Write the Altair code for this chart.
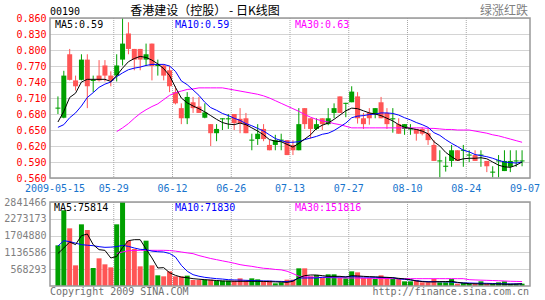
import altair as alt
import pandas as pd

# ---------------- data ----------------
date_labels = ["2009-05-15", "05-29", "06-12", "06-26", "07-13", "07-27", "08-10", "08-24", "09-07"]
date_index = [0, 10, 20, 30, 40, 50, 60, 70, 80]
grid_index = [10, 20, 30, 40, 50, 60, 70]
price_ticks = [0.56, 0.59, 0.62, 0.65, 0.68, 0.71, 0.74, 0.77, 0.80, 0.83, 0.86]
vol_ticks = [568293, 1136586, 1704880, 2273173, 2841466]

opens = [0.690, 0.673, 0.792, 0.743, 0.744, 0.782, 0.742, 0.752, 0.771, 0.752,
         0.752, 0.782, 0.831, 0.802, 0.802, 0.782, 0.812, 0.770, 0.771, 0.762,
         0.721, 0.691, 0.672, 0.702, 0.694, 0.673, 0.661, 0.644, 0.670, 0.670,
         0.680, 0.671, 0.672, 0.630, 0.633, 0.652, 0.622, 0.622, 0.630, 0.631,
         0.622, 0.612, 0.691, 0.672, 0.652, 0.672, 0.661, 0.682, 0.713, 0.699,
         0.702, 0.713, 0.672, 0.682, 0.680, 0.702, 0.682, 0.670, 0.661, 0.652,
         0.651, 0.652, 0.652, 0.644, 0.622, 0.591, 0.581, 0.592, 0.612, 0.611,
         0.602, 0.603, 0.602, 0.592, 0.570, 0.591, 0.573, 0.581, 0.591, 0.591]
highs = [0.713, 0.761, 0.802, 0.752, 0.792, 0.792, 0.752, 0.781, 0.781, 0.760,
         0.792, 0.860, 0.852, 0.802, 0.802, 0.812, 0.812, 0.782, 0.773, 0.770,
         0.732, 0.700, 0.721, 0.712, 0.712, 0.700, 0.661, 0.661, 0.672, 0.680,
         0.680, 0.691, 0.682, 0.643, 0.661, 0.661, 0.631, 0.641, 0.643, 0.631,
         0.631, 0.691, 0.691, 0.672, 0.672, 0.672, 0.691, 0.700, 0.713, 0.701,
         0.732, 0.721, 0.682, 0.691, 0.691, 0.712, 0.691, 0.691, 0.672, 0.661,
         0.661, 0.652, 0.655, 0.652, 0.631, 0.612, 0.600, 0.622, 0.612, 0.622,
         0.612, 0.612, 0.612, 0.592, 0.582, 0.603, 0.612, 0.612, 0.612, 0.612]
lows = [0.680, 0.672, 0.743, 0.724, 0.743, 0.691, 0.721, 0.741, 0.741, 0.732,
        0.741, 0.771, 0.792, 0.762, 0.762, 0.770, 0.743, 0.752, 0.743, 0.721,
        0.698, 0.661, 0.661, 0.682, 0.682, 0.672, 0.620, 0.629, 0.650, 0.652,
        0.650, 0.644, 0.644, 0.612, 0.622, 0.629, 0.612, 0.612, 0.612, 0.603,
        0.603, 0.612, 0.652, 0.634, 0.650, 0.650, 0.659, 0.672, 0.682, 0.674,
        0.702, 0.662, 0.652, 0.660, 0.672, 0.672, 0.652, 0.645, 0.643, 0.641,
        0.641, 0.630, 0.640, 0.622, 0.592, 0.561, 0.572, 0.581, 0.592, 0.581,
        0.590, 0.592, 0.581, 0.571, 0.561, 0.561, 0.573, 0.571, 0.581, 0.582]
closes = [0.692, 0.752, 0.744, 0.732, 0.782, 0.732, 0.744, 0.743, 0.752, 0.743,
          0.771, 0.812, 0.802, 0.782, 0.782, 0.792, 0.770, 0.773, 0.752, 0.732,
          0.700, 0.672, 0.712, 0.691, 0.682, 0.683, 0.644, 0.652, 0.672, 0.672,
          0.663, 0.663, 0.644, 0.632, 0.643, 0.633, 0.612, 0.631, 0.632, 0.603,
          0.612, 0.661, 0.661, 0.652, 0.661, 0.661, 0.672, 0.691, 0.682, 0.701,
          0.722, 0.672, 0.661, 0.672, 0.691, 0.672, 0.661, 0.672, 0.643, 0.661,
          0.653, 0.643, 0.643, 0.631, 0.592, 0.593, 0.583, 0.612, 0.592, 0.613,
          0.604, 0.592, 0.604, 0.582, 0.572, 0.593, 0.592, 0.592, 0.593, 0.593]
volumes = [1376000, 2560000, 1951000, 699000, 2086000, 1894000, 609000, 936000, 733000, 631000,
           2086000, 3050000, 1533000, 1252000, 665000, 1533000, 699000, 361000, 327000, 496000,
           327000, 327000, 350000, 203000, 203000, 214000, 214000, 180000, 180000, 180000,
           180000, 259000, 180000, 259000, 225000, 169000, 180000, 90000, 124000, 214000,
           214000, 598000, 598000, 327000, 372000, 271000, 395000, 395000, 271000, 259000,
           496000, 462000, 271000, 271000, 237000, 361000, 271000, 237000, 237000, 158000,
           158000, 203000, 124000, 124000, 237000, 124000, 124000, 237000, 79000, 101000,
           79000, 79000, 158000, 79000, 79000, 124000, 158000, 79000, 79000, 79000]

ma5 = [0.665, 0.685, 0.711, 0.719, 0.740, 0.745, 0.745, 0.745, 0.745, 0.741,
       0.752, 0.766, 0.778, 0.784, 0.788, 0.786, 0.781, 0.774, 0.765, 0.752,
       0.730, 0.710, 0.701, 0.695, 0.690, 0.684, 0.677, 0.670, 0.664, 0.661,
       0.660, 0.663, 0.660, 0.654, 0.648, 0.641, 0.632, 0.629, 0.628, 0.623,
       0.618, 0.625, 0.633, 0.641, 0.653, 0.659, 0.663, 0.670, 0.678, 0.686,
       0.691, 0.690, 0.686, 0.682, 0.680, 0.677, 0.672, 0.667, 0.660, 0.655,
       0.653, 0.651, 0.648, 0.643, 0.628, 0.620, 0.608, 0.600, 0.593, 0.596,
       0.597, 0.597, 0.598, 0.596, 0.590, 0.584, 0.581, 0.580, 0.584, 0.590]
ma10 = [0.655, 0.660, 0.673, 0.682, 0.695, 0.711, 0.720, 0.730, 0.736, 0.740,
        0.750, 0.757, 0.763, 0.766, 0.768, 0.771, 0.773, 0.773, 0.773, 0.770,
        0.760, 0.742, 0.735, 0.725, 0.715, 0.702, 0.692, 0.687, 0.681, 0.677,
        0.672, 0.668, 0.662, 0.658, 0.653, 0.648, 0.641, 0.634, 0.630, 0.627,
        0.627, 0.628, 0.632, 0.635, 0.638, 0.642, 0.644, 0.649, 0.656, 0.663,
        0.673, 0.676, 0.677, 0.679, 0.680, 0.682, 0.682, 0.681, 0.678, 0.673,
        0.669, 0.664, 0.660, 0.655, 0.645, 0.640, 0.632, 0.625, 0.619, 0.612,
        0.609, 0.604, 0.602, 0.600, 0.597, 0.593, 0.590, 0.589, 0.588, 0.590]
ma30 = [None] * 10 + [
        0.647, 0.654, 0.662, 0.672, 0.681, 0.688, 0.694, 0.699, 0.707, 0.715,
        0.720, 0.723, 0.726, 0.727, 0.729, 0.729, 0.729, 0.729, 0.729, 0.727,
        0.725, 0.723, 0.721, 0.719, 0.717, 0.714, 0.710, 0.705, 0.700, 0.695,
        0.690, 0.685, 0.679, 0.674, 0.670, 0.667, 0.665, 0.662, 0.660, 0.657,
        0.654, 0.654, 0.654, 0.654, 0.654, 0.654, 0.654, 0.654, 0.654, 0.654,
        0.654, 0.654, 0.654, 0.653, 0.653, 0.652, 0.651, 0.651, 0.650, 0.650,
        0.650, 0.648, 0.646, 0.644, 0.641, 0.639, 0.636, 0.633, 0.630, 0.627]

vma5 = [1100000, 1285000, 1488000, 1400000, 1700000, 1759000, 1400000, 1229000, 1206000, 947000,
        1000000, 1300000, 1533000, 1567000, 1567000, 1250000, 950000, 609000, 620000, 450000,
        360000, 300000, 280000, 248000, 230000, 214000, 200000, 185000, 170000, 165000,
        160000, 158000, 158000, 158000, 158000, 155000, 147000, 140000, 135000, 124000,
        160000, 280000, 350000, 372000, 372000, 350000, 327000, 327000, 327000, 304000,
        350000, 340000, 327000, 316000, 310000, 300000, 293000, 280000, 259000, 240000,
        214000, 170000, 150000, 135000, 140000, 147000, 150000, 158000, 124000, 100000,
        79000, 75000, 68000, 68000, 68000, 68000, 60000, 56000, 65000, 76000]
vma10 = [1350000, 1533000, 1500000, 1450000, 1398000, 1380000, 1364000, 1330000, 1308000, 1315000,
         1330000, 1376000, 1340000, 1285000, 1240000, 1229000, 1180000, 1160000, 1150000, 1100000,
         980000, 700000, 500000, 383000, 330000, 293000, 270000, 248000, 235000, 214000,
         205000, 200000, 192000, 185000, 178000, 172000, 169000, 160000, 155000, 147000,
         180000, 271000, 271000, 271000, 271000, 295000, 304000, 304000, 304000, 310000,
         316000, 310000, 304000, 300000, 293000, 290000, 285000, 282000, 240000, 225000,
         203000, 180000, 158000, 150000, 147000, 145000, 140000, 135000, 113000, 105000,
         101000, 95000, 92000, 90000, 85000, 80000, 72000, 68000, 70000, 72000]
vma30 = [None] * 10 + [
         1100000, 1150000, 1195000, 1200000, 1207000, 1207000, 1207000, 1207000, 1207000, 1200000,
         1180000, 1150000, 1120000, 1094000, 1030000, 980000, 930000, 891000, 850000, 812000,
         770000, 722000, 690000, 665000, 630000, 600000, 586000, 560000, 545000, 500000,
         420000, 330000, 310000, 300000, 293000, 290000, 285000, 280000, 275000, 272000,
         271000, 268000, 265000, 262000, 258000, 255000, 252000, 250000, 248000, 248000,
         248000, 248000, 248000, 248000, 248000, 248000, 248000, 248000, 248000, 248000,
         214000, 205000, 198000, 192000, 185000, 178000, 170000, 160000, 155000, 150000]

# ---------------- styling ----------------
GREEN = "#00A000"
RED = "#FF5555"
GRID = "#A8A8A8"
FRAME = "#999999"
MONO = "DejaVu Sans Mono"
CJK = "Noto Sans CJK SC"
W, H = 480, 268
P_TOP, P_BOT = 0, 160
V_TOP, V_BOT = 184, 268

df = pd.DataFrame({
    "i": list(range(len(opens))),
    "open": opens, "high": highs, "low": lows, "close": closes,
    "vol": volumes, "ma5": ma5, "ma10": ma10, "ma30": ma30,
    "vma5": vma5, "vma10": vma10, "vma30": vma30,
})

base = alt.Chart(df).transform_calculate(
    x="datum.i + 0.5",
    dir="datum.close >= datum.open ? 'up' : 'down'",
)

xs = alt.Scale(domain=[0, 80], nice=False, zero=False)
X = alt.X("x:Q", scale=xs, axis=None)
py = alt.Scale(domain=[0.56, 0.86], range=[P_BOT, P_TOP], nice=False, zero=False)
vy = alt.Scale(domain=[0, 2841466], range=[V_BOT, V_TOP], nice=False, clamp=True)
col = alt.Color("dir:N", scale=alt.Scale(domain=["up", "down"], range=[GREEN, RED]), legend=None)

PAXIS = alt.Axis(values=price_ticks, format=".3f", orient="left", title=None,
                 labelColor="#FF0000", labelFont=MONO, labelFontSize=10, labelPadding=4,
                 ticks=False, domain=False, grid=True, gridColor=GRID, gridDash=[1, 1],
                 labelOverlap=False)
VAXIS = alt.Axis(values=vol_ticks, format="d", orient="left", title=None,
                 labelColor="#808080", labelFont=MONO, labelFontSize=10, labelPadding=4,
                 ticks=False, domain=False, grid=True, gridColor=GRID, gridDash=[1, 1],
                 labelOverlap=False)

gdf = pd.DataFrame({"g": grid_index})
vgrid_p = alt.Chart(gdf).mark_rule(color=GRID, strokeDash=[1, 1]).encode(
    x=alt.X("g:Q", scale=xs, axis=None), y=alt.value(P_TOP), y2=alt.value(P_BOT))
vgrid_v = alt.Chart(gdf).mark_rule(color=GRID, strokeDash=[1, 1]).encode(
    x=alt.X("g:Q", scale=xs, axis=None), y=alt.value(V_TOP), y2=alt.value(V_BOT))

wick = base.mark_rule(strokeWidth=1).encode(
    x=X, y=alt.Y("low:Q", scale=py, axis=PAXIS), y2="high:Q", color=col)
body = base.mark_bar(size=5).encode(
    x=X, y=alt.Y("open:Q", scale=py, axis=PAXIS), y2="close:Q", color=col)
l5 = base.mark_line(color="#000000", strokeWidth=1).encode(x=X, y=alt.Y("ma5:Q", scale=py, axis=PAXIS))
l10 = base.mark_line(color="#0000FF", strokeWidth=1).encode(x=X, y=alt.Y("ma10:Q", scale=py, axis=PAXIS))
l30 = base.mark_line(color="#FF00FF", strokeWidth=1).encode(x=X, y=alt.Y("ma30:Q", scale=py, axis=PAXIS))
price = alt.layer(vgrid_p, wick, body, l30, l10, l5)

vbar = base.mark_bar(size=5).encode(x=X, y=alt.Y("vol:Q", scale=vy, axis=VAXIS), color=col)
v5 = base.mark_line(color="#000000", strokeWidth=1).encode(x=X, y=alt.Y("vma5:Q", scale=vy, axis=VAXIS))
v10 = base.mark_line(color="#0000FF", strokeWidth=1).encode(x=X, y=alt.Y("vma10:Q", scale=vy, axis=VAXIS))
v30 = base.mark_line(color="#FF00FF", strokeWidth=1).encode(x=X, y=alt.Y("vma30:Q", scale=vy, axis=VAXIS))
volume = alt.layer(vgrid_v, vbar, v30, v10, v5)

one = pd.DataFrame({"k": [0]})
frame_p = alt.Chart(one).mark_rect(filled=False, stroke=FRAME, strokeWidth=1.5).encode(
    x=alt.value(0), x2=alt.value(W), y=alt.value(P_TOP), y2=alt.value(P_BOT))
frame_v = alt.Chart(one).mark_rect(filled=False, stroke=FRAME, strokeWidth=1.5).encode(
    x=alt.value(0), x2=alt.value(W), y=alt.value(V_TOP), y2=alt.value(V_BOT))

ddf = pd.DataFrame({"d": date_index, "lab": date_labels})
dates = alt.Chart(ddf).mark_text(font=MONO, fontSize=10, color="#1874CD", baseline="middle").encode(
    x=alt.X("d:Q", scale=xs, axis=None), y=alt.value(171), text="lab:N")


def label(txt, x, y, color="#000000", font=MONO, size=10, align="left"):
    return alt.Chart(one).mark_text(text=txt, font=font, fontSize=size, color=color,
                                    align=align, baseline="alphabetic").encode(
        x=alt.value(x), y=alt.value(y))


texts = [
    label("00190", 0, -3.5),
    label("香港建设（控股） - 日K线图", 155, -3, font=CJK, size=12, align="center"),
    label("绿涨红跌", 478, -3, color="#808080", font=CJK, size=12, align="right"),
    label("MA5:0.59", 5, 9.5),
    label("MA10:0.59", 125, 9.5, color="#0000FF"),
    label("MA30:0.63", 245, 9.5, color="#FF00FF"),
    label("MA5:75814", 4, 192.5),
    label("MA10:71830", 125, 192.5, color="#0000FF"),
    label("MA30:151816", 245, 192.5, color="#FF00FF"),
    label("Copyright 2009 SINA.COM", 0, 277, color="#707070"),
    label("http://finance.sina.com.cn", 479, 277, color="#707070", align="right"),
]

chart = alt.layer(price, volume, frame_p, frame_v, dates, *texts).resolve_scale(
    y="independent"
).properties(
    width=W, height=H,
    autosize=alt.AutoSizeParams(type="none"),
    padding={"left": 50, "top": 18, "right": 15, "bottom": 14},
    background="#FFFFFF",
).configure_view(stroke="transparent")

chart.save("out.html", embed_options={"renderer": "svg", "actions": False})
